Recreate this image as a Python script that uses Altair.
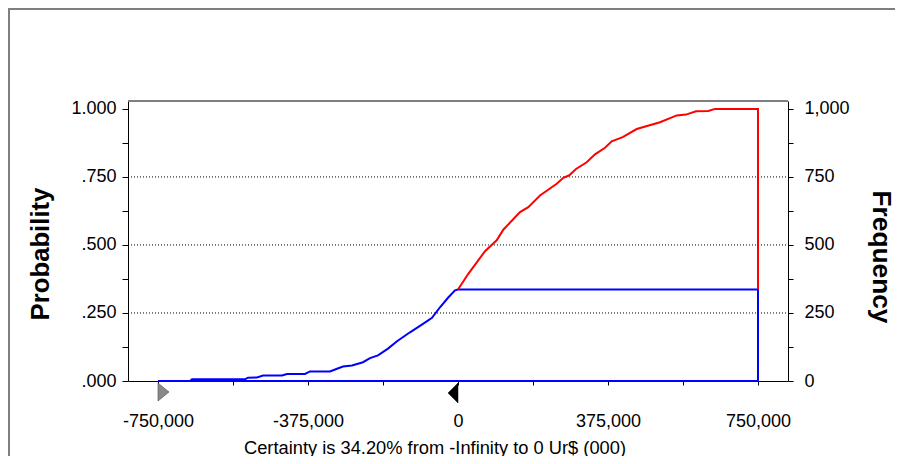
import altair as alt
import pandas as pd

# ---- data ----
# cumulative probability inside the certainty range (-Infinity .. 0), drawn blue
left_x = [-750000, -670000, -665000, -532500, -525000, -502500, -487500, -440000,
          -427500, -382500, -370000, -320000, -302500, -287500, -265000, -237500,
          -220000, -200000, -175000, -152500, -120000, -87500, -65000, -45000,
          -25000, -7500, 0]
left_p = [0.0, 0.0, 0.006, 0.006, 0.012, 0.013, 0.020, 0.020,
          0.026, 0.026, 0.035, 0.035, 0.045, 0.053, 0.057, 0.069,
          0.084, 0.094, 0.119, 0.146, 0.179, 0.210, 0.232, 0.271,
          0.306, 0.333, 0.336]
# cumulative probability outside the certainty range, drawn red
right_x = [0, 25750, 67500, 96750, 113250, 155000, 175750, 205000, 246750,
           263250, 278250, 295000, 321750, 342500, 367500, 384250, 411750,
           446750, 505000, 546750, 570000, 595000, 625750, 642500, 750000]
right_p = [0.336, 0.394, 0.477, 0.517, 0.556, 0.621, 0.639, 0.682, 0.725,
           0.747, 0.756, 0.779, 0.804, 0.833, 0.857, 0.881, 0.896,
           0.926, 0.951, 0.976, 0.979, 0.991, 0.992, 1.0, 1.0]
range_min = -750000
range_max = 750000
certainty_end = 0
grid_p = [0.25, 0.5, 0.75]
prob_ticks = [0, 0.125, 0.25, 0.375, 0.5, 0.625, 0.75, 0.875, 1.0]
freq_ticks = [0, 125, 250, 375, 500, 625, 750, 875, 1000]
x_ticks = [-750000, -562500, -375000, -187500, 0, 187500, 375000, 562500, 750000]
title_text = "Certainty is 34.20% from -Infinity to 0 Ur$ (000)"

# ---- tables ----
cert_level = left_p[-1]
blue_x = left_x + [range_max, range_max, range_min]
blue_p = left_p + [cert_level, 0.0, 0.0]
blue_df = pd.DataFrame({"v": blue_x, "p": blue_p, "o": list(range(len(blue_x)))})
red_x = right_x + [range_max]
red_p = right_p + [cert_level]
red_df = pd.DataFrame({"v": red_x, "p": red_p, "o": list(range(len(red_x)))})
grid_df = pd.DataFrame({"p": grid_p})
one_df = pd.DataFrame({"k": [1]})
lmark_df = pd.DataFrame({"v": [range_min], "p": [0.0]})
rmark_df = pd.DataFrame({"v": [certainty_end], "p": [0.0]})
freq_df = pd.DataFrame({"f": [0, 1000]})

W, H = 660, 280
xscale = alt.Scale(domain=[-825000, 825000], nice=False, zero=False)
yscale = alt.Scale(domain=[0, 1.029], nice=False, zero=False)

x_axis = alt.Axis(
    values=x_ticks,
    labelExpr="datum.value % 375000 == 0 ? (datum.value < 0 ? '-' : '') + format(abs(datum.value), ',d') : ''",
    tickSize=4, labelPadding=27, labelOverlap=False, labelFlush=False,
    title=title_text, titleFontSize=18.3, titleFontWeight="normal",
    titleX=306.5, titleY=72, titleBaseline="alphabetic",
    titleAlign="center", grid=False, orient="bottom",
)
y_axis = alt.Axis(
    values=prob_ticks,
    labelExpr="(datum.value * 8) % 2 == 0 ? (datum.value == 1 ? '1.000' : replace(format(datum.value, '.3f'), '0.', '.')) : ''",
    tickSize=6, labelPadding=6, labelOverlap=False, labelFlush=False,
    title="Probability", titleFontSize=25.7, titleFontWeight="bold",
    titleAngle=270, titleX=-80, titleY=152.5, titleAlign="center",
    titleBaseline="alphabetic", grid=False, orient="left",
)

X = alt.X("v:Q", scale=xscale, axis=x_axis)
Y = alt.Y("p:Q", scale=yscale, axis=y_axis)

frame_gray = "#7f7f7f"
# outer window frame: only its top and left edges fall inside the picture
outer_frame = alt.Chart(one_df).mark_rect(
    fill=None, fillOpacity=0, stroke=frame_gray, strokeWidth=2).encode(
    x=alt.value(-119), x2=alt.value(W + 160), y=alt.value(-92), y2=alt.value(H + 110))
plot_top = alt.Chart(one_df).mark_rule(color=frame_gray, strokeWidth=2).encode(
    x=alt.value(0), x2=alt.value(W), y=alt.value(0))

grid = alt.Chart(grid_df).mark_rule(color="black", strokeWidth=1, strokeDash=[1, 2]).encode(
    y=Y, x=alt.value(0), x2=alt.value(W))

blue = alt.Chart(blue_df).mark_line(color="#0000ff", strokeWidth=2).encode(
    x=X, y=Y, order="o:Q")
red = alt.Chart(red_df).mark_line(color="#ff0000", strokeWidth=2).encode(
    x=X, y=Y, order="o:Q")

lmark = alt.Chart(lmark_df).mark_point(
    shape="M0,0.22 L1.22,1.22 L0,2.22 Z", size=324, filled=True,
    fill="#8a8a8a", stroke="#4a4a4a", strokeWidth=0.6, opacity=1).encode(x=X, y=Y)
rmark = alt.Chart(rmark_df).mark_point(
    shape="M0,0.22 L-1.11,1.33 L0,2.44 Z", size=324, filled=True,
    fill="black", stroke="black", strokeWidth=0.5, opacity=1).encode(x=X, y=Y)

inner = alt.layer(outer_frame, plot_top, grid, blue, red, lmark, rmark)

freq = alt.Chart(freq_df).mark_point(opacity=0).encode(
    y=alt.Y("f:Q", scale=alt.Scale(domain=[0, 1029], nice=False, zero=False),
            axis=alt.Axis(
                values=freq_ticks,
                labelExpr="datum.value % 250 == 0 ? format(datum.value, ',d') : ''",
                tickSize=5, labelPadding=11, labelOverlap=False, labelFlush=False,
                title="Frequency", titleFontSize=26.3, titleFontWeight="bold",
                titleAngle=90, titleX=84, titleY=155.5, titleAlign="center",
                titleBaseline="alphabetic", grid=False, orient="right",
            )))

chart = alt.layer(inner, freq).resolve_scale(y="independent").properties(
    width=W, height=H,
    autosize=alt.AutoSizeParams(type="none"),
    padding={"left": 120, "top": 93, "right": 107, "bottom": 75},
    background="white",
).configure_view(stroke=None).configure_axis(
    labelFont="Liberation Sans", labelFontSize=18, labelColor="black",
    titleFont="Liberation Sans", titleColor="black",
    domainColor="black", domainWidth=1, tickColor="black", tickWidth=1,
)

chart.save("out.html", embed_options={"renderer": "svg", "actions": False})
